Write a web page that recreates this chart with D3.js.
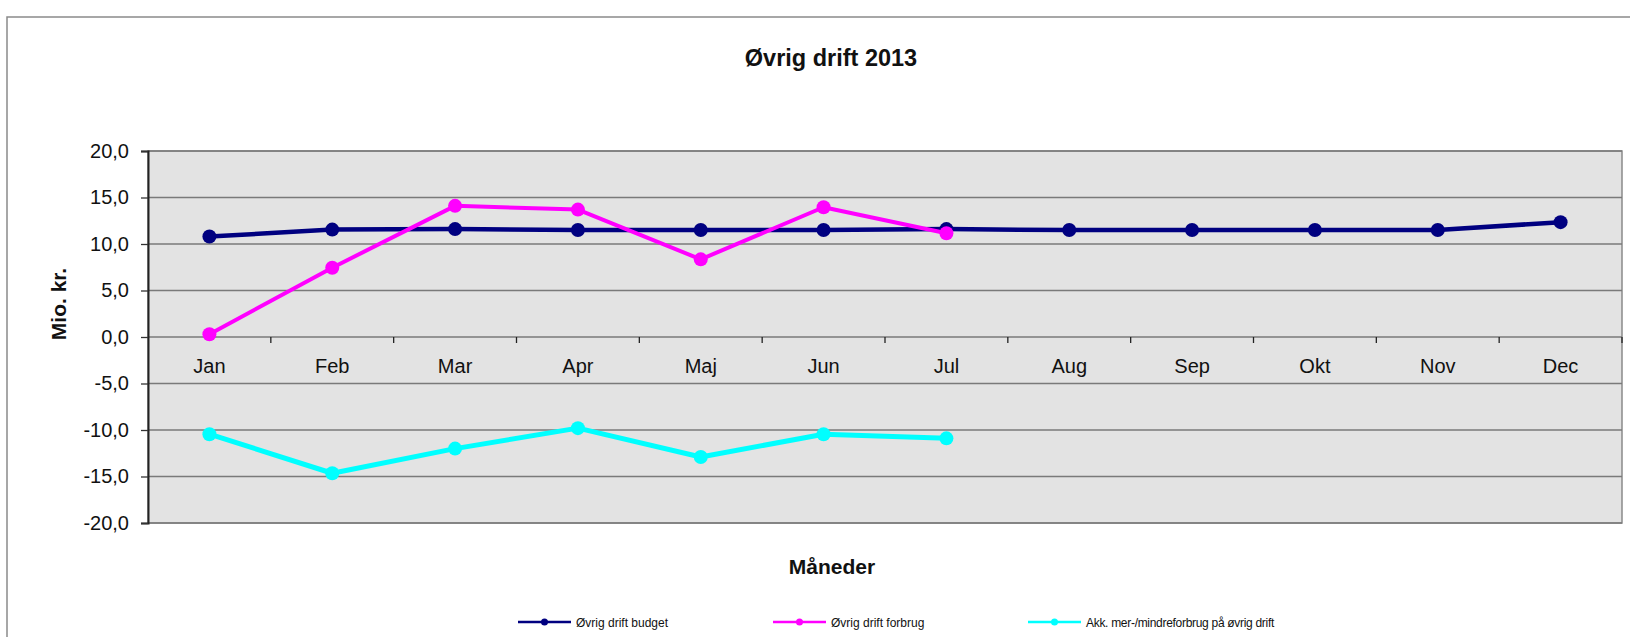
<!DOCTYPE html>
<html>
<head>
<meta charset="utf-8">
<script src="https://cdn.jsdelivr.net/npm/d3@7"></script>
<style>
  html, body { margin: 0; padding: 0; background: #fff; }
  svg { display: block; font-family: "Liberation Sans", Arial, sans-serif; }
</style>
</head>
<body>
<svg id="chart" width="1630" height="637"></svg>
<script>
const months = ["Jan","Feb","Mar","Apr","Maj","Jun","Jul","Aug","Sep","Okt","Nov","Dec"];
const budget = [10.8, 11.55, 11.6, 11.5, 11.5, 11.5, 11.6, 11.5, 11.5, 11.5, 11.5, 12.35];
const forbrug = [0.3, 7.45, 14.1, 13.7, 8.35, 13.95, 11.15];
const akk = [-10.45, -14.65, -12.0, -9.8, -12.9, -10.45, -10.9];
const yTicks = [-20, -15, -10, -5, 0, 5, 10, 15, 20];
const seriesNames = ["Øvrig drift budget", "Øvrig drift forbrug", "Akk. mer-/mindreforbrug på øvrig drift"];
const seriesColors = ["#000080", "#ff00ff", "#00ffff"];

(function () {
const svg = d3.select("#chart");
const pL = 148, pR = 1622, pT = 151, pB = 523;

// outer chart frame
svg.append("rect").attr("x", 7).attr("y", 17).attr("width", 1700).attr("height", 700)
  .attr("fill", "#fff").attr("stroke", "#8a8a8a").attr("stroke-width", 1.5);

const x = d3.scaleBand().domain(months).range([pL, pR]).paddingInner(0).paddingOuter(0);
const y = d3.scaleLinear().domain([-20, 20]).range([pB, pT]);
const cx = m => x(m) + x.bandwidth() / 2;

const loc = d3.formatLocale({decimal: ",", thousands: ".", grouping: [3], currency: ["", " kr"], minus: "-"});
const fmt = loc.format(".1f");

// plot area
svg.append("rect").attr("x", pL).attr("y", pT).attr("width", pR - pL).attr("height", pB - pT)
  .attr("fill", "#e3e3e3").attr("stroke", "#8a8a8a").attr("stroke-width", 1.5);

// gridlines
svg.append("g").selectAll("line").data(yTicks).join("line")
  .attr("x1", pL).attr("x2", pR)
  .attr("y1", d => y(d)).attr("y2", d => y(d))
  .attr("stroke", "#7a7a7a").attr("stroke-width", 1.5);

// y axis
const yAxis = svg.append("g").attr("transform", `translate(${pL},0)`)
  .call(d3.axisLeft(y).tickValues(yTicks).tickFormat(fmt).tickSize(7).tickPadding(12));
yAxis.select(".domain").attr("stroke", "#222").attr("stroke-width", 2);
yAxis.selectAll(".tick line").attr("stroke", "#333").attr("stroke-width", 1.3);
yAxis.selectAll(".tick text").attr("font-size", 20).attr("fill", "#111")
  .attr("font-family", "Liberation Sans, Arial, sans-serif");

// x axis on zero line (labels, no built-in ticks)
const xAxis = svg.append("g").attr("transform", `translate(0,${y(0)})`)
  .call(d3.axisBottom(x).tickSize(0).tickPadding(22));
xAxis.select(".domain").remove();
xAxis.selectAll(".tick text").attr("font-size", 20).attr("fill", "#111")
  .attr("font-family", "Liberation Sans, Arial, sans-serif");
// category boundary ticks
const bounds = months.map(m => x(m)).concat([pR]).slice(1);
svg.append("g").selectAll("line").data(bounds).join("line")
  .attr("x1", d => d).attr("x2", d => d)
  .attr("y1", y(0)).attr("y2", y(0) + 6)
  .attr("stroke", "#222").attr("stroke-width", 1.3);

// series
const series = [budget, forbrug, akk];
const widths = [4.5, 4, 5];
series.forEach((vals, i) => {
  const data = vals.map((v, j) => ({m: months[j], v}));
  const line = d3.line().x(d => cx(d.m)).y(d => y(d.v));
  svg.append("path").datum(data).attr("d", line)
    .attr("fill", "none").attr("stroke", seriesColors[i]).attr("stroke-width", widths[i])
    .attr("stroke-linejoin", "round");
  svg.append("g").selectAll("circle").data(data).join("circle")
    .attr("cx", d => cx(d.m)).attr("cy", d => y(d.v)).attr("r", 7)
    .attr("fill", seriesColors[i]);
});

// title
svg.append("text").attr("x", 831).attr("y", 66).attr("text-anchor", "middle")
  .attr("font-size", 23.5).attr("font-weight", "bold").attr("fill", "#111").text("Øvrig drift 2013");
// axis titles
svg.append("text").attr("x", 832).attr("y", 574).attr("text-anchor", "middle")
  .attr("font-size", 21).attr("font-weight", "bold").attr("fill", "#111").text("Måneder");
svg.append("text").attr("transform", "translate(66,304) rotate(-90)").attr("text-anchor", "middle")
  .attr("font-size", 21).attr("font-weight", "bold").attr("fill", "#111").text("Mio. kr.");

// legend
const legX = [518, 773, 1028];
const lg = svg.append("g");
seriesNames.forEach((name, i) => {
  const g = lg.append("g").attr("transform", `translate(${legX[i]},622)`);
  g.append("line").attr("x1", 0).attr("x2", 53).attr("y1", 0).attr("y2", 0)
    .attr("stroke", seriesColors[i]).attr("stroke-width", 2.5);
  g.append("circle").attr("cx", 26.5).attr("cy", 0).attr("r", 3.5).attr("fill", seriesColors[i]);
  g.append("text").attr("x", 58).attr("y", 4.5).attr("font-size", 12).attr("fill", "#111")
    .attr("letter-spacing", i === 2 ? -0.3 : 0).text(name);
});
})();
</script>
</body>
</html>
